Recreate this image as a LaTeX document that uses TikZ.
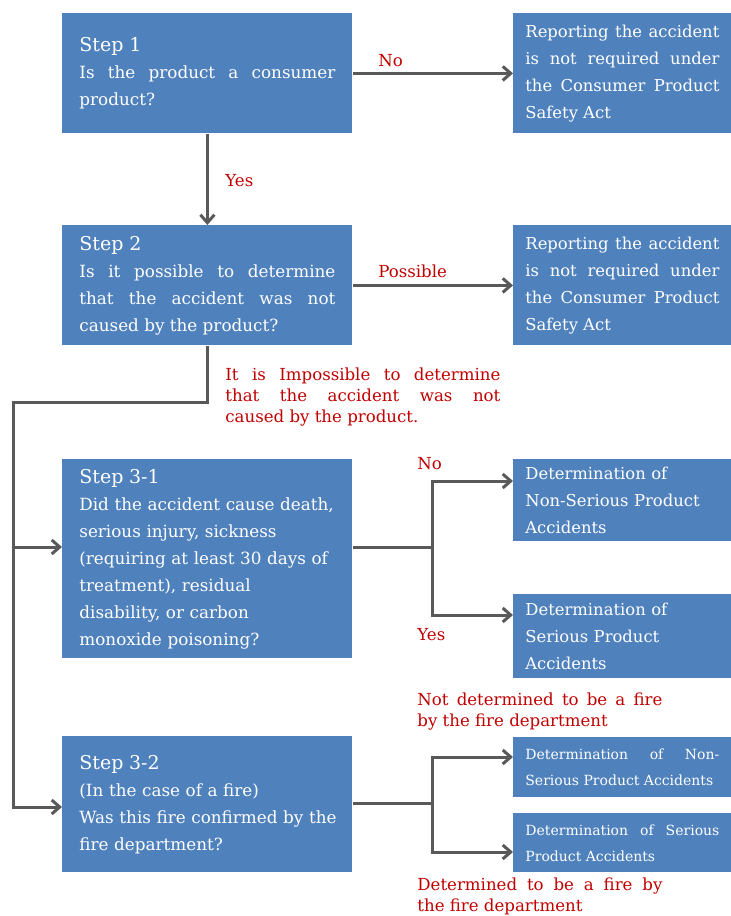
\documentclass[tikz,border=0pt]{standalone}
\usepackage{fontspec}
\setmainfont{DejaVu Serif}
\usepackage{xcolor}
\usetikzlibrary{arrows.meta,positioning,calc}

\definecolor{boxblue}{RGB}{79,129,189}
\definecolor{linegray}{RGB}{89,89,89}
\definecolor{labelred}{RGB}{192,0,0}
\newcommand{\headfont}{\fontsize{9.5}{13.5}\selectfont}

\begin{document}
\begin{tikzpicture}[
    x=0.5pt, y=-0.5pt,
    stepbox/.style={rectangle, fill=boxblue, text=white, anchor=north west, align=justify, text width=128pt, inner xsep=8.5pt, minimum width=145pt, font=\fontsize{8.4}{13.5}\selectfont},
    resbox/.style={rectangle, fill=boxblue, text=white, anchor=north west, align=justify, text width=97pt, inner xsep=6pt, minimum width=109pt, font=\fontsize{8.2}{13.5}\selectfont},
    smallbox/.style={resbox, font=\fontsize{7}{13}\selectfont},
    arrow/.style={-{Straight Barb[length=4pt,width=7pt]}, line width=1.5pt, draw=linegray},
    conn/.style={line width=1.5pt, draw=linegray},
    redlabel/.style={text=labelred, inner sep=0pt, anchor=west, font=\fontsize{8.3}{10.5}\selectfont}
]
\useasboundingbox (0,0) rectangle (731,916);

% Step 1
\node[stepbox, minimum height=60pt] (step1) at (62,13) {{\headfont Step 1}\\ Is the product a consumer\linebreak product?};
\node[resbox, minimum height=60pt] (res1) at (513,13) {Reporting the accident\linebreak is not required under\linebreak the Consumer Product\linebreak Safety Act};

% Step 2
\node[stepbox, minimum height=60pt] (step2) at (62,225) {{\headfont Step 2}\\ Is it possible to determine\linebreak that the accident was not\linebreak caused by the product?};
\node[resbox, minimum height=60pt] (res2) at (513,225) {Reporting the accident\linebreak is not required under\linebreak the Consumer Product\linebreak Safety Act};

% Step 3-1
\node[stepbox, align=left, minimum height=99.5pt] (step31) at (62,459) {{\headfont Step 3-1}\\ Did the accident cause death,\\ serious injury, sickness\\ (requiring at least 30 days of\\ treatment), residual\\ disability, or carbon\\ monoxide poisoning?};
\node[resbox, align=left, minimum height=41pt] (nonser31) at (513,459) {Determination of\\ Non-Serious Product\\ Accidents};
\node[resbox, align=left, minimum height=42pt] (ser31) at (513,594) {Determination of\\ Serious Product\\ Accidents};

% Step 3-2
\node[stepbox, align=left, minimum height=68pt] (step32) at (62,736) {{\headfont Step 3-2}\\ (In the case of a fire)\\ \mbox{Was this fire confirmed by the}\\ fire department?};
\node[smallbox, minimum height=30pt] (nonser32) at (513,737) {Determination of Non-\linebreak Serious Product Accidents};
\node[smallbox, minimum height=29.5pt] (ser32) at (513,813) {Determination of Serious\linebreak Product Accidents};

% Labels
\node[redlabel] (lno1) at (378,61) {No};
\node[redlabel] (lyes1) at (225,181) {Yes};
\node[redlabel] (lposs) at (378,271) {Possible};
\node[redlabel, text width=137.5pt, align=justify] (limp) at (225,397) {It is Impossible to determine\linebreak that the accident was not\linebreak caused by the product.};
\node[redlabel] (lno2) at (417,464) {No};
\node[redlabel] (lyes2) at (417,635) {Yes};
\node[redlabel, text width=122.5pt, align=justify] (lfire1) at (417,711.5) {Not determined to be a fire\linebreak by the fire department};
\node[redlabel, text width=122.5pt, align=justify] (lfire2) at (417,896.5) {Determined to be a fire by\linebreak the fire department};

% Junctions
\coordinate (bus) at (13,402);
\coordinate (in31) at (62,547);
\coordinate (in32) at (62,807);
\coordinate (split31) at (432,547);
\coordinate (split32) at (432,803);
\coordinate (tnon31) at (513,481);
\coordinate (tser31) at (513,615);
\coordinate (tnon32) at (513,757);
\coordinate (tser32) at (513,852);

% Arrows
\draw[arrow] (step1) -- (res1);
\draw[arrow] (step1) -- (step2);
\draw[arrow] (step2) -- (res2);
\draw[arrow] (step2.south) |- (bus) |- (in32);
\draw[arrow] (bus |- in31) -- (in31);
\draw[conn] (in31 -| step31.east) -- (split31);
\draw[arrow] (split31) |- (tnon31);
\draw[arrow] (split31) |- (tser31);
\draw[conn] (split32 -| step32.east) -- (split32);
\draw[arrow] (split32) |- (tnon32);
\draw[arrow] (split32) |- (tser32);

\end{tikzpicture}
\end{document}
